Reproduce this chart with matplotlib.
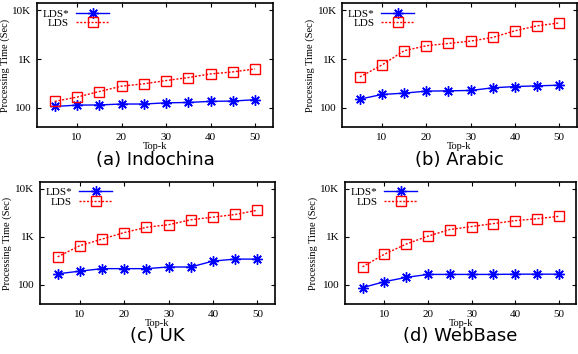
import matplotlib
matplotlib.use('Agg')
import matplotlib.pyplot as plt
from matplotlib.ticker import FixedLocator, NullLocator

# Data
top_k = [5, 10, 15, 20, 25, 30, 35, 40, 45, 50]

indochina_lds_star = [106, 113, 114, 119, 119, 126, 128, 135, 137, 146]
indochina_lds = [135, 165, 215, 277, 309, 361, 416, 494, 543, 625]

arabic_lds_star = [150, 187, 199, 219, 222, 226, 256, 272, 281, 290]
arabic_lds = [429, 755, 1480, 1870, 2090, 2330, 2770, 3790, 4790, 5510]

uk_lds_star = [171, 194, 219, 219, 219, 237, 237, 315, 346, 346]
uk_lds = [386, 659, 903, 1236, 1590, 1800, 2280, 2590, 2940, 3600]

webbase_lds_star = [88, 117, 144, 166, 166, 166, 166, 168, 168, 168]
webbase_lds = [239, 436, 712, 1040, 1430, 1650, 1900, 2190, 2400, 2690]

panels = [
    ('(a) Indochina', indochina_lds_star, indochina_lds),
    ('(b) Arabic', arabic_lds_star, arabic_lds),
    ('(c) UK', uk_lds_star, uk_lds),
    ('(d) WebBase', webbase_lds_star, webbase_lds),
]

# axes positions [left, bottom, width, height] in figure fractions
positions = [
    [0.064, 0.641, 0.408, 0.350],
    [0.592, 0.641, 0.406, 0.350],
    [0.069, 0.141, 0.407, 0.345],
    [0.597, 0.141, 0.400, 0.345],
]

serif = ['Liberation Serif', 'DejaVu Serif']

fig = plt.figure(figsize=(5.78, 3.54), dpi=100)

for (title, star, lds), pos in zip(panels, positions):
    ax = fig.add_axes(pos)
    ax.plot(top_k, star, color='#0000ff', lw=1.0, marker=(8, 2, 0), ms=7.5,
            mew=1.0, label='LDS*')
    ax.plot(top_k, lds, color='#ff0000', lw=1.0, ls=(0, (1.5, 1.2)), marker='s',
            ms=6.5, mfc='none', mew=1.0, label='LDS')
    ax.set_yscale('log')
    ax.set_xlim(1, 54)
    ax.set_ylim(40, 14000)
    ax.yaxis.set_major_locator(FixedLocator([100, 1000, 10000]))
    ax.yaxis.set_minor_locator(NullLocator())
    ax.set_yticklabels(['100', '1K', '10K'])
    ax.set_xticks([10, 20, 30, 40, 50])
    ax.tick_params(direction='in', length=3, width=0.8, labelsize=8,
                   top=True, right=True, pad=4)
    for lab in ax.get_xticklabels() + ax.get_yticklabels():
        lab.set_family(serif)
    for s in ax.spines.values():
        s.set_linewidth(1.2)
    ax.set_xlabel('Top-k', fontsize=7.5, family=serif, labelpad=0)
    ax.set_ylabel('Processing Time (Sec)', fontsize=7.5, family=serif, labelpad=2)
    ax.legend(loc='upper left', frameon=False, markerfirst=False,
              prop={'family': serif, 'size': 8}, handlelength=3.0,
              handletextpad=0.6, labelspacing=0.0, borderaxespad=0.4,
              borderpad=0.1)
    # caption below the panel
    ax.text(0.5, -0.19, title, transform=ax.transAxes, ha='center',
            va='top', fontsize=13, family='DejaVu Sans')

fig.savefig('out.png', dpi=100)
